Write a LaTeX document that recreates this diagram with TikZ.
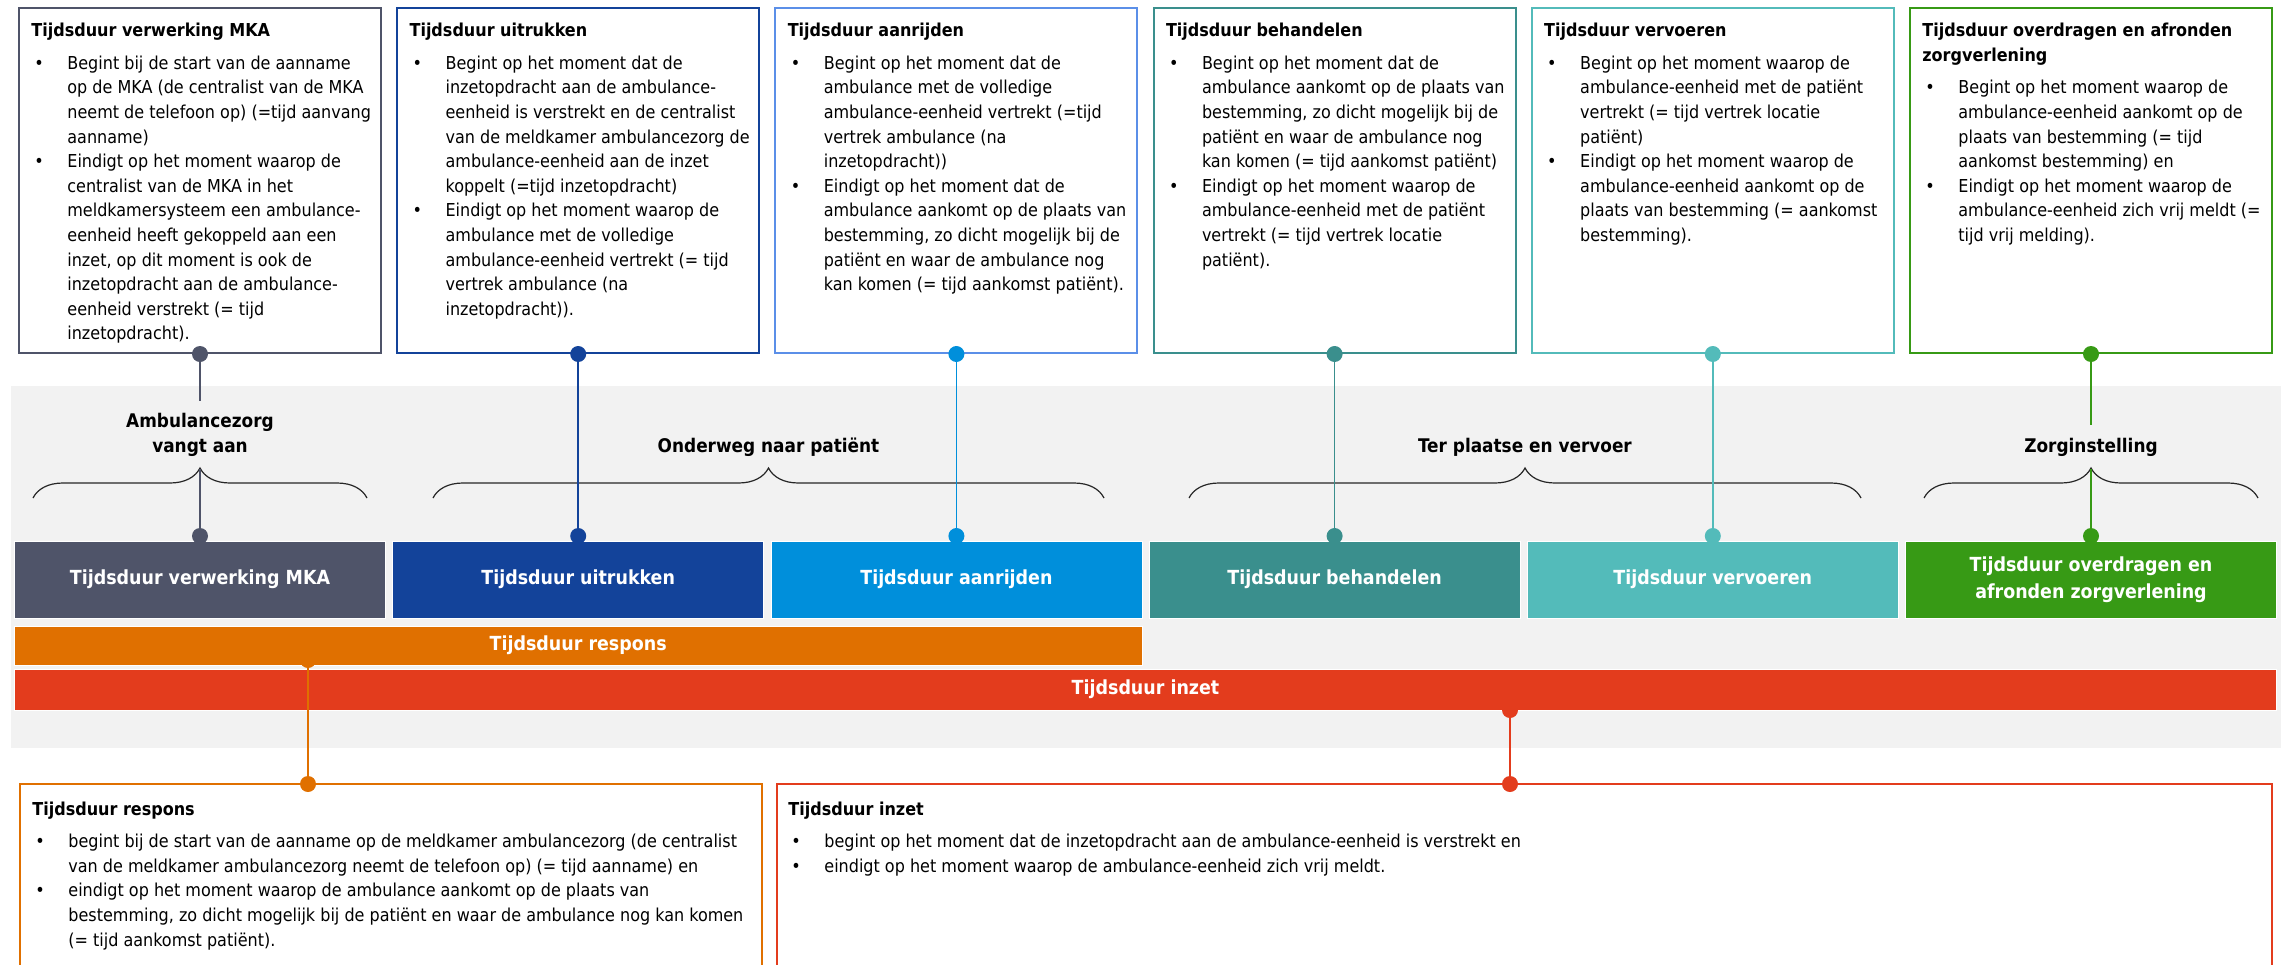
\documentclass[tikz,border=0pt]{standalone}
\usepackage{fontspec}
\setmainfont{DejaVu Sans Condensed}
\usepackage{xcolor}
\usepackage{tikz}
\usepackage{array}
\usetikzlibrary{decorations.pathreplacing}

\definecolor{mkacol}{HTML}{4F5469}
\definecolor{uitcol}{HTML}{13439A}
\definecolor{aancol}{HTML}{008FDB}
\definecolor{aanline}{HTML}{5B8FE8}
\definecolor{behcol}{HTML}{3A8F8D}
\definecolor{vercol}{HTML}{53BBBA}
\definecolor{zorcol}{HTML}{379A15}
\definecolor{rescol}{HTML}{E07000}
\definecolor{inzcol}{HTML}{E33C1D}
\definecolor{bandcol}{HTML}{F2F2F2}

\newcommand{\bodyfont}{\fontsize{8.9pt}{12.3pt}\selectfont}
\newcommand{\titlefont}{\fontsize{8.9pt}{12.3pt}\selectfont\bfseries}
\newcommand{\barfont}{\fontsize{9.7pt}{13.5pt}\selectfont\bfseries}
\newcommand{\groupfont}{\fontsize{9.4pt}{12.5pt}\selectfont\bfseries}
\newcommand{\boxtitle}[1]{\multicolumn{2}{@{}l@{}}{\titlefont #1}}
\newenvironment{bullets}{\begin{tabular}{@{\hspace{1.5pt}}p{16.5pt}@{}l@{}}}{\end{tabular}}

\tikzset{topbox/.style={draw=#1, line width=1pt, fill=white, anchor=north, minimum width=181pt, minimum height=172.5pt, inner sep=0pt},
boxtext/.style={anchor=north west, inner sep=0pt, font=\bodyfont},
phase/.style={fill=#1, draw=white, line width=0.4pt, text=white, font=\barfont, minimum width=185.5pt, minimum height=38.5pt, inner sep=0pt, align=center},
bar/.style={fill=#1, draw=white, line width=0.4pt, text=white, font=\barfont, inner sep=0pt},
grouplabel/.style={font=\groupfont, align=center, inner sep=6pt},
groupbrace/.style={draw=black!85, line width=0.6pt, decorate, decoration={brace, amplitude=15pt}},
dot/.style={circle, fill=#1, inner sep=0pt, minimum size=8pt},
link/.style={draw=#1, line width=0.8pt}}

\begin{document}
\begin{tikzpicture}[x=0.5pt,y=-0.5pt]
 \useasboundingbox (0,0) rectangle (2281,964);
 %Drawing grey band
 \fill[bandcol] (11,386) rectangle (2281,748);

 %Drawing top boxes
 \node[topbox=mkacol] (box1) at (200,7) {};
 \node[boxtext] (txt1) at ([shift={(13,12)}]box1.north west) {\begin{bullets}
 \boxtitle{Tijdsduur verwerking MKA}\\[4pt]
 \textbullet & Begint bij de start van de aanname\\
 & op de MKA (de centralist van de MKA\\
 & neemt de telefoon op) (=tijd aanvang\\
 & aanname)\\
 \textbullet & Eindigt op het moment waarop de\\
 & centralist van de MKA in het\\
 & meldkamersysteem een ambulance-\\
 & eenheid heeft gekoppeld aan een\\
 & inzet, op dit moment is ook de\\
 & inzetopdracht aan de ambulance-\\
 & eenheid verstrekt (= tijd\\
 & inzetopdracht).
 \end{bullets}};

 \node[topbox=uitcol] (box2) at (578.2,7) {};
 \node[boxtext] (txt2) at ([shift={(13,12)}]box2.north west) {\begin{bullets}
 \boxtitle{Tijdsduur uitrukken}\\[4pt]
 \textbullet & Begint op het moment dat de\\
 & inzetopdracht aan de ambulance-\\
 & eenheid is verstrekt en de centralist\\
 & van de meldkamer ambulancezorg de\\
 & ambulance-eenheid aan de inzet\\
 & koppelt (=tijd inzetopdracht)\\
 \textbullet & Eindigt op het moment waarop de\\
 & ambulance met de volledige\\
 & ambulance-eenheid vertrekt (= tijd\\
 & vertrek ambulance (na\\
 & inzetopdracht)).
 \end{bullets}};

 \node[topbox=aanline] (box3) at (956.4,7) {};
 \node[boxtext] (txt3) at ([shift={(13,12)}]box3.north west) {\begin{bullets}
 \boxtitle{Tijdsduur aanrijden}\\[4pt]
 \textbullet & Begint op het moment dat de\\
 & ambulance met de volledige\\
 & ambulance-eenheid vertrekt (=tijd\\
 & vertrek ambulance (na\\
 & inzetopdracht))\\
 \textbullet & Eindigt op het moment dat de\\
 & ambulance aankomt op de plaats van\\
 & bestemming, zo dicht mogelijk bij de\\
 & patiënt en waar de ambulance nog\\
 & kan komen (= tijd aankomst patiënt).
 \end{bullets}};

 \node[topbox=behcol] (box4) at (1334.6,7) {};
 \node[boxtext] (txt4) at ([shift={(13,12)}]box4.north west) {\begin{bullets}
 \boxtitle{Tijdsduur behandelen}\\[4pt]
 \textbullet & Begint op het moment dat de\\
 & ambulance aankomt op de plaats van\\
 & bestemming, zo dicht mogelijk bij de\\
 & patiënt en waar de ambulance nog\\
 & kan komen (= tijd aankomst patiënt)\\
 \textbullet & Eindigt op het moment waarop de\\
 & ambulance-eenheid met de patiënt\\
 & vertrekt (= tijd vertrek locatie\\
 & patiënt).
 \end{bullets}};

 \node[topbox=vercol] (box5) at (1712.8,7) {};
 \node[boxtext] (txt5) at ([shift={(13,12)}]box5.north west) {\begin{bullets}
 \boxtitle{Tijdsduur vervoeren}\\[4pt]
 \textbullet & Begint op het moment waarop de\\
 & ambulance-eenheid met de patiënt\\
 & vertrekt (= tijd vertrek locatie\\
 & patiënt)\\
 \textbullet & Eindigt op het moment waarop de\\
 & ambulance-eenheid aankomt op de\\
 & plaats van bestemming (= aankomst\\
 & bestemming).
 \end{bullets}};

 \node[topbox=zorcol] (box6) at (2091,7) {};
 \node[boxtext] (txt6) at ([shift={(13,12)}]box6.north west) {\begin{bullets}
 \boxtitle{Tijdsduur overdragen en afronden}\\
 \boxtitle{zorgverlening}\\[4pt]
 \textbullet & Begint op het moment waarop de\\
 & ambulance-eenheid aankomt op de\\
 & plaats van bestemming (= tijd\\
 & aankomst bestemming) en\\
 \textbullet & Eindigt op het moment waarop de\\
 & ambulance-eenheid zich vrij meldt (=\\
 & tijd vrij melding).
 \end{bullets}};

 %Drawing group labels and braces
 \node[grouplabel] (lab1) at (200,435) {Ambulancezorg\\vangt aan};
 \node[grouplabel] (lab2) at (768.5,447) {Onderweg naar patiënt};
 \node[grouplabel] (lab3) at (1525,447) {Ter plaatse en vervoer};
 \node[grouplabel] (lab4) at (2091,447) {Zorginstelling};
 \draw[groupbrace] (33,498) -- (367,498);
 \draw[groupbrace] (433,498) -- (1104,498);
 \draw[groupbrace] (1189,498) -- (1861,498);
 \draw[groupbrace] (1924,498) -- (2258,498);

 %Drawing phase boxes
 \node[phase=mkacol] (ph1) at (200,579.5) {Tijdsduur verwerking MKA};
 \node[phase=uitcol] (ph2) at (578.2,579.5) {Tijdsduur uitrukken};
 \node[phase=aancol] (ph3) at (956.4,579.5) {Tijdsduur aanrijden};
 \node[phase=behcol] (ph4) at (1334.6,579.5) {Tijdsduur behandelen};
 \node[phase=vercol] (ph5) at (1712.8,579.5) {Tijdsduur vervoeren};
 \node[phase=zorcol] (ph6) at (2091,579.5) {Tijdsduur overdragen en\\afronden zorgverlening};

 %Drawing respons and inzet bars
 \node[bar=rescol, minimum width=563.75pt, minimum height=19.5pt] (respbar) at (578.2,645.5) {Tijdsduur respons};
 \node[bar=inzcol, minimum width=1131pt, minimum height=20.5pt] (inzbar) at (1145.5,689.5) {Tijdsduur inzet};

 %Drawing bottom boxes
 \draw[rescol, line width=1pt] (20,966) |- (762,784) -- (762,966);
 \draw[inzcol, line width=1pt] (777,966) |- (2272,784) -- (2272,966);
 \node[boxtext] (resptxt) at (32,798) {\begin{bullets}
 \boxtitle{Tijdsduur respons}\\[3.7pt]
 \textbullet & begint bij de start van de aanname op de meldkamer ambulancezorg (de centralist\\
 & van de meldkamer ambulancezorg neemt de telefoon op) (= tijd aanname) en\\
 \textbullet & eindigt op het moment waarop de ambulance aankomt op de plaats van\\
 & bestemming, zo dicht mogelijk bij de patiënt en waar de ambulance nog kan komen\\
 & (= tijd aankomst patiënt).
 \end{bullets}};
 \node[boxtext] (inztxt) at (788,798) {\begin{bullets}
 \boxtitle{Tijdsduur inzet}\\[3.7pt]
 \textbullet & begint op het moment dat de inzetopdracht aan de ambulance-eenheid is verstrekt en\\
 \textbullet & eindigt op het moment waarop de ambulance-eenheid zich vrij meldt.
 \end{bullets}};

 %Drawing dots
 \node[dot=mkacol] (t1) at (box1.south) {};
 \node[dot=uitcol] (t2) at (box2.south) {};
 \node[dot=aancol] (t3) at (box3.south) {};
 \node[dot=behcol] (t4) at (box4.south) {};
 \node[dot=vercol] (t5) at (box5.south) {};
 \node[dot=zorcol] (t6) at (box6.south) {};
 \node[dot=mkacol] (b1) at (200,536) {};
 \node[dot=uitcol] (b2) at (578.2,536) {};
 \node[dot=aancol] (b3) at (956.4,536) {};
 \node[dot=behcol] (b4) at (1334.6,536) {};
 \node[dot=vercol] (b5) at (1712.8,536) {};
 \node[dot=zorcol] (b6) at (2091,536) {};
 \node[dot=rescol] (rtop) at (308,660) {};
 \node[dot=rescol] (rbot) at (308,784) {};
 \node[dot=inzcol] (itop) at (1510,710) {};
 \node[dot=inzcol] (ibot) at (1510,784) {};

 %Drawing connectors
 \draw[link=mkacol] (t1) -- (lab1);
 \draw[link=mkacol] (lab1) -- (b1);
 \draw[link=uitcol] (t2) -- (b2);
 \draw[link=aancol] (t3) -- (b3);
 \draw[link=behcol] (t4) -- (b4);
 \draw[link=vercol] (t5) -- (b5);
 \draw[link=zorcol] (t6) -- (lab4);
 \draw[link=zorcol] (lab4) -- (b6);
 \draw[link=rescol] (rtop) -- (rbot);
 \draw[link=inzcol] (itop) -- (ibot);
\end{tikzpicture}
\end{document}
